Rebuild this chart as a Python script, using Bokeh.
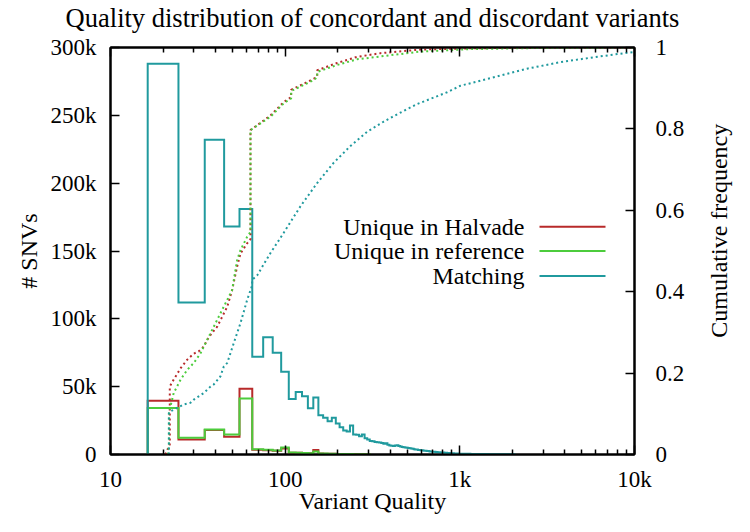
import numpy as np
from bokeh.plotting import figure
from bokeh.layouts import row, column
from bokeh.models import LinearAxis, LogAxis, Range1d, FixedTicker, Label, Arrow
from bokeh.embed import file_html
from bokeh.resources import INLINE

# ---------------- data ----------------
# Histogram bin centres (variant quality) and counts (thousands of SNVs)
match_q = [20, 30, 40, 50, 60, 70, 80, 90, 100, 110, 120, 130, 140, 150, 160, 170, 180, 190, 200, 210,
           220, 230, 240, 250, 260, 270, 280, 290, 300, 310, 320, 330, 340, 350, 360, 370, 380, 390, 400, 410,
           420, 430, 440, 450, 460, 470, 480, 490, 500, 510, 520, 530, 540, 550, 560, 570, 580, 590, 600, 610,
           620, 630, 640, 650, 660, 670, 680, 690, 700, 710, 720, 730, 740, 750, 760, 770, 780, 790, 800, 810,
           820, 830, 840, 850, 860, 870, 880, 890, 900, 910, 920, 930, 940, 950, 960, 970, 980, 990, 1000,
           1100, 1200, 1300, 1400, 1500, 1600, 1700, 1800, 1900, 2000]
match_k = [288, 112, 232, 168, 181, 72, 86.5, 75, 61, 41, 46, 43, 34, 42, 29, 27, 24.5, 27, 22.8, 20,
           17.6, 17, 21.3, 14.7, 14.5, 13.5, 14.7, 12, 11, 10, 9.8, 9.3, 9.1, 8.8, 8.5, 8, 8.3, 7.2, 6.6, 6.5,
           6.3, 6.6, 6.8, 6.2, 5.9, 5.6, 5.4, 5.2, 5.0, 4.8, 4.6, 4.4, 4.2, 3.9, 3.7, 3.6, 3.4, 3.3, 3.2, 3.1,
           2.95, 2.8, 2.7, 2.6, 2.5, 2.4, 2.3, 2.2, 2.1, 2.05, 2.0, 1.9, 1.8, 1.75, 1.7, 1.6, 1.55, 1.5, 1.45, 1.4,
           1.35, 1.3, 1.2, 1.15, 1.1, 1.05, 1.0, 0.95, 0.9, 0.87, 0.84, 0.8, 0.77, 0.74, 0.7, 0.67, 0.64, 0.6, 0.58,
           0.5, 0.42, 0.36, 0.3, 0.26, 0.22, 0.18, 0.15, 0.12, 0.1]

uniq_q = [20, 30, 40, 50, 60, 70, 80, 90, 100, 110, 120, 130, 140, 150, 160, 170, 180, 190, 200, 210,
          220, 230, 240, 250, 260, 270, 280, 290, 300]
halvade_k = [39.7, 11, 18, 13, 48.5, 3.5, 3.2, 2.8, 4.5, 1.3, 1.2, 1.0, 0.9, 3.4, 0.8, 0.6, 0.5, 0.5, 0.45, 0.4,
             0.35, 0.35, 0.3, 0.3, 0.25, 0.25, 0.2, 0.2, 0.2]
reference_k = [34.3, 12.3, 18.5, 14.7, 41.2, 3.9, 3.5, 3.0, 5.2, 1.4, 1.3, 1.1, 1.0, 2.3, 0.8, 0.7, 0.6, 0.5, 0.4, 0.4,
               0.35, 0.3, 0.3, 0.25, 0.25, 0.2, 0.2, 0.2, 0.15]

# Cumulative frequency curves (quality, fraction)
halv_cum_q = [20.6, 21.85, 21.85, 23.0, 25.2, 27.5, 30.0, 31.9, 34.2, 35.8, 37.4, 40.8, 46.6, 49.7, 53.1, 55.5,
              60.6, 63.3, 63.3, 82.4, 98.2, 108.2, 108.2, 145.8, 152.5, 152.5, 198.5, 258, 351, 595, 1150, 3000, 10000]
halv_cum_f = [0, 0.025, 0.167, 0.184, 0.212, 0.233, 0.248, 0.253, 0.265, 0.282, 0.294, 0.314, 0.363, 0.404, 0.462,
              0.494, 0.519, 0.529, 0.797, 0.833, 0.866, 0.878, 0.896, 0.923, 0.93, 0.944, 0.962, 0.977, 0.986, 0.995,
              0.998, 1.0, 1.0]
ref_cum_q = [21.3, 21.6, 21.6, 23.0, 25.2, 27.5, 30.0, 32.8, 35.8, 39.0, 42.6, 46.6, 49.7, 53.1, 55.5, 60.6,
             63.3, 63.3, 82.4, 98.2, 108.2, 108.2, 145.8, 152.5, 152.5, 198.5, 258, 351, 595, 1150, 3000, 10000]
ref_cum_f = [0, 0.02, 0.102, 0.151, 0.184, 0.208, 0.225, 0.249, 0.282, 0.314, 0.347, 0.38, 0.404, 0.478, 0.502,
             0.535, 0.547, 0.797, 0.83, 0.863, 0.875, 0.893, 0.92, 0.927, 0.94, 0.957, 0.971, 0.978, 0.99, 0.996,
             0.999, 1.0]
match_cum_q = [21.6, 21.6, 23.0, 26.3, 28.7, 30.0, 34.2, 37.4, 39.0, 42.6, 44.5, 46.6, 50.8, 55.5, 60.6, 64.7,
               64.7, 69.1, 82.4, 98.2, 122.4, 152.5, 189.8, 236.5, 294.7, 366.8, 457, 569.5, 709, 846, 1008, 1564,
               2428, 3766, 5842, 9071, 10000]
match_cum_f = [0, 0.104, 0.11, 0.123, 0.127, 0.135, 0.151, 0.167, 0.172, 0.192, 0.216, 0.225, 0.274, 0.323, 0.38,
               0.415, 0.429, 0.44, 0.495, 0.545, 0.61, 0.667, 0.717, 0.758, 0.793, 0.818, 0.84, 0.861, 0.877, 0.89,
               0.906, 0.927, 0.948, 0.964, 0.976, 0.987, 0.989]

series_names = ["Unique in Halvade", "Unique in reference", "Matching"]
title_text = "Quality distribution of concordant and discordant variants"

x_ticks = [10, 100, 1000, 10000]
x_tick_labels = ["10", "100", "1k", "10k"]
y_ticks = [0, 50, 100, 150, 200, 250, 300]
y_tick_labels = ["0", "50k", "100k", "150k", "200k", "250k", "300k"]
y2_ticks = [0, 0.2, 0.4, 0.6, 0.8, 1]
y2_tick_labels = ["0", "0.2", "0.4", "0.6", "0.8", "1"]

# ---------------- style / geometry ----------------
FONT = "Liberation Serif"
FS_TICK = "23px"
FS_LABEL = "24px"
FS_TITLE = "26.5px"
RED = "#b82a2a"
GREEN = "#4ccc3c"
TEAL = "#209a9e"

TOTAL_W, TOTAL_H = 734, 516
TITLE_H = 34                     # strip holding the title
SIDE_W = 28                      # strip holding the right-hand axis title
MAIN_W = TOTAL_W - SIDE_W
MAIN_H = TOTAL_H - TITLE_H
# frame geometry in page px (as in the original picture)
FR_L, FR_R, FR_T, FR_B = 110, 634, 47, 455


def px_to_q(px):
    return float(10 ** (1 + 3 * (px - FR_L) / (FR_R - FR_L)))


def py_to_f(py):
    return float((FR_B - py) / (FR_B - FR_T))


def histeps(q, v):
    """gnuplot 'histeps' outline on a log axis (bin edges = geometric midpoints)."""
    q = np.asarray(q, float)
    v = np.asarray(v, float)
    mids = np.sqrt(q[:-1] * q[1:])
    edges = np.concatenate([[q[0] ** 2 / mids[0]], mids, [q[-1] ** 2 / mids[-1]]])
    xs, ys = [float(edges[0])], [0.0]
    for i in range(len(v)):
        xs += [float(edges[i]), float(edges[i + 1])]
        ys += [float(v[i]), float(v[i])]
    xs.append(float(edges[-1]))
    ys.append(0.0)
    return xs, ys


def text_strip(w, h):
    f = figure(width=w, height=h, x_range=Range1d(0, w), y_range=Range1d(0, h),
               output_backend="svg", toolbar_location=None, min_border=0,
               x_axis_location=None, y_axis_location=None)
    f.xgrid.visible = False
    f.ygrid.visible = False
    f.outline_line_color = None
    f.background_fill_color = "white"
    f.border_fill_color = "white"
    return f


# ---------------- title strip ----------------
title_fig = text_strip(TOTAL_W, TITLE_H)
title_fig.add_layout(Label(x=(FR_L + FR_R) / 2, y=TITLE_H - 2, text=title_text,
                           text_align="center", text_baseline="top", text_font=FONT,
                           text_font_size=FS_TITLE, text_color="black"))

# ---------------- main plot ----------------
p = figure(width=MAIN_W, height=MAIN_H, x_axis_type="log",
           x_range=Range1d(10, 10000), y_range=Range1d(0, 300),
           output_backend="svg", toolbar_location=None,
           min_border_left=FR_L, min_border_right=MAIN_W - FR_R, min_border_top=FR_T - TITLE_H,
           min_border_bottom=TOTAL_H - FR_B)
p.extra_y_ranges = {"cum": Range1d(0, 1)}
p.xgrid.visible = False
p.ygrid.visible = False
p.outline_line_color = "black"
p.outline_line_width = 2
p.background_fill_color = "white"
p.border_fill_color = "white"

minor_x = [m * 10 ** e for e in range(1, 4) for m in range(2, 10)]


def style_axis(ax):
    ax.axis_line_width = 2
    ax.axis_line_color = "black"
    ax.major_tick_in = 9
    ax.major_tick_out = 0
    ax.minor_tick_in = 5
    ax.minor_tick_out = 0
    ax.major_tick_line_width = 1.5
    ax.minor_tick_line_width = 1.5
    ax.major_label_text_font = FONT
    ax.major_label_text_font_size = FS_TICK
    ax.major_label_text_color = "black"
    ax.axis_label_text_font = FONT
    ax.axis_label_text_font_size = FS_LABEL
    ax.axis_label_text_font_style = "normal"
    ax.axis_label_text_color = "black"


xa = p.xaxis[0]
style_axis(xa)
xa.ticker = FixedTicker(ticks=x_ticks, minor_ticks=minor_x)
xa.major_label_overrides = dict(zip(x_ticks, x_tick_labels))
xa.major_label_standoff = 12
xa.axis_label = "Variant Quality"
xa.axis_label_standoff = -7

ya = p.yaxis[0]
style_axis(ya)
ya.ticker = FixedTicker(ticks=y_ticks)
ya.major_label_overrides = dict(zip(y_ticks, y_tick_labels))
ya.minor_tick_line_color = None
ya.major_label_standoff = 14
ya.axis_label = "# SNVs"
ya.axis_label_standoff = 6

top = LogAxis(ticker=FixedTicker(ticks=x_ticks, minor_ticks=minor_x))
style_axis(top)
top.major_label_text_font_size = "2px"
top.major_label_text_alpha = 0
top.major_label_standoff = 0
p.add_layout(top, "above")

ra = LinearAxis(y_range_name="cum", ticker=FixedTicker(ticks=y2_ticks))
style_axis(ra)
ra.major_label_overrides = dict(zip(y2_ticks, y2_tick_labels))
ra.minor_tick_line_color = None
ra.major_label_standoff = 21
p.add_layout(ra, "right")

# histograms
for q, v, col in [(uniq_q, halvade_k, RED), (uniq_q, reference_k, GREEN), (match_q, match_k, TEAL)]:
    xs, ys = histeps(q, v)
    p.line(xs, ys, line_color=col, line_width=2, line_join="miter")

# cumulative curves
for q, f, col in [(halv_cum_q, halv_cum_f, RED), (ref_cum_q, ref_cum_f, GREEN), (match_cum_q, match_cum_f, TEAL)]:
    p.line(q, f, y_range_name="cum", line_color=col, line_width=2, line_dash="2 3")

# legend (gnuplot style: text, then sample line)
for name, col, py in zip(series_names, [RED, GREEN, TEAL], [226.7, 251.0, 276.0]):
    p.add_layout(Label(x=px_to_q(524), y=py_to_f(py), y_range_name="cum", text=name,
                       text_align="right", text_baseline="middle", text_font=FONT,
                       text_font_size=FS_LABEL, text_color="black"))
    p.add_layout(Arrow(end=None, x_start=px_to_q(539), x_end=px_to_q(605),
                       y_start=py_to_f(py), y_end=py_to_f(py), y_range_name="cum",
                       line_color=col, line_width=2))

# ---------------- right-hand axis title (reads bottom-to-top) ----------------
side = text_strip(SIDE_W, MAIN_H)
side.add_layout(Label(x=SIDE_W / 2 - 2, y=TOTAL_H - (FR_T + FR_B) / 2, text="Cumulative frequency",
                      angle=90, angle_units="deg", text_align="center", text_baseline="middle",
                      text_font=FONT, text_font_size=FS_LABEL, text_color="black"))

layout = column(title_fig, row(p, side, spacing=0), spacing=0)
open("out.html", "w").write(file_html(layout, INLINE))
